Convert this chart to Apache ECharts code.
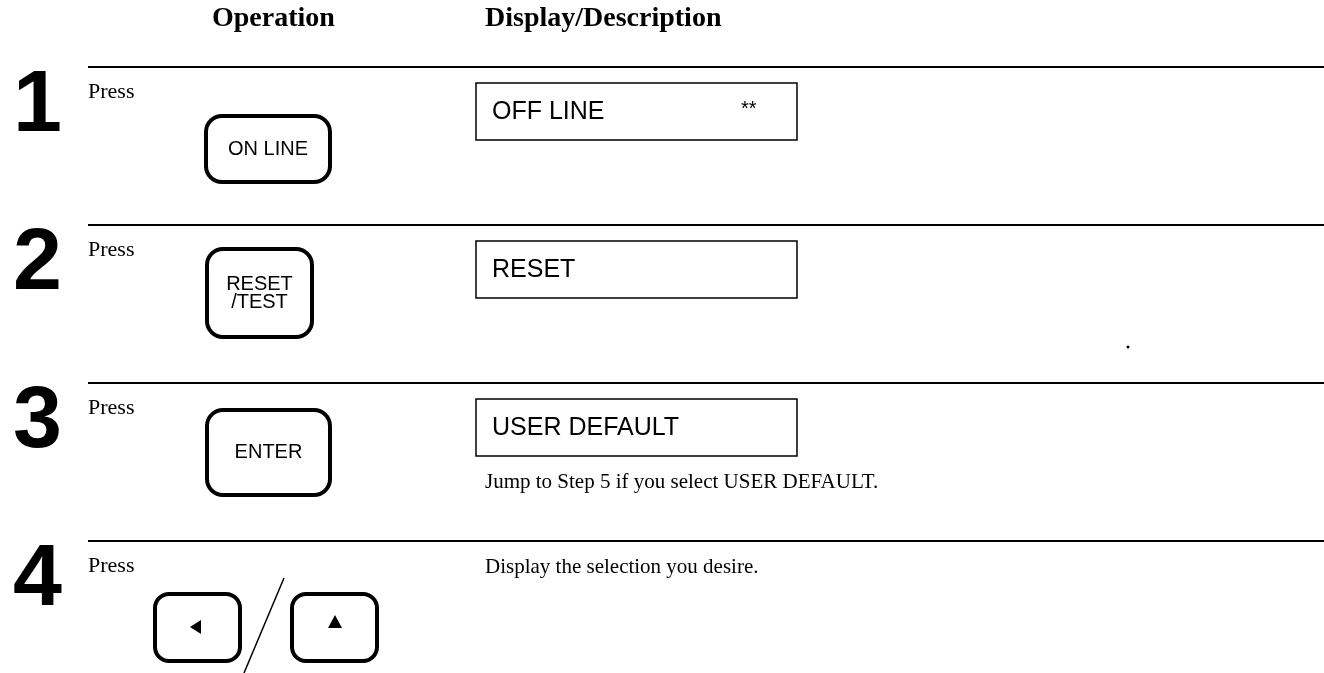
<!DOCTYPE html>
<html>
<head>
<meta charset="utf-8">
<script src="https://cdn.jsdelivr.net/npm/echarts@6/dist/echarts.min.js"></script>
<style>html,body{margin:0;padding:0;background:#fff;}#c{width:1324px;height:673px;}</style>
</head>
<body>
<div id="c"></div>
<script>
// ---- content ----
var headers = ['Operation', 'Display/Description'];
var stepNumbers = ['1', '2', '3', '4'];
var actionWord = ['Press', 'Press', 'Press', 'Press'];
var buttonLabels = [['ON LINE'], ['RESET', '/TEST'], ['ENTER']];
var displayTexts = ['OFF LINE', 'RESET', 'USER DEFAULT'];
var displayMarks = ['**', '', ''];
var descriptions = ['', '', 'Jump to Step 5 if you select USER DEFAULT.', 'Display the selection you desire.'];

var chart = echarts.init(document.getElementById('c'), null, {renderer: 'canvas'});
var W = 1324;
var rowTop = [67, 225, 383, 541];
var serif = '"Liberation Serif", "Times New Roman", serif';
var sans = '"Liberation Sans", Arial, Helvetica, sans-serif';
var g = [];

// headers
g.push({type: 'text', left: 212, top: 5, style: {text: headers[0], font: 'bold 28px ' + serif, fill: '#000'}});
g.push({type: 'text', left: 485, top: 5, style: {text: headers[1], font: 'bold 28px ' + serif, fill: '#000'}});

for (var i = 0; i < 4; i++) {
  var y0 = rowTop[i];
  g.push({type: 'line', shape: {x1: 88, y1: y0, x2: W, y2: y0}, style: {stroke: '#000', lineWidth: 1.8}});
  g.push({type: 'text', x: 13, y: y0 - 4, style: {text: stepNumbers[i], font: 'bold 88px ' + sans, fill: '#000', textVerticalAlign: 'top'}});
  g.push({type: 'text', x: 88, y: y0 + 14, style: {text: actionWord[i], font: '22px ' + serif, fill: '#000'}});
}

// buttons
var btns = [
  {x: 206, y: 116, w: 124, h: 66},
  {x: 207, y: 249, w: 105, h: 88},
  {x: 207, y: 410, w: 123, h: 85}
];
for (var b = 0; b < 3; b++) {
  var B = btns[b];
  g.push({type: 'rect', shape: {x: B.x, y: B.y, width: B.w, height: B.h, r: 16}, style: {fill: '#fff', stroke: '#000', lineWidth: 4}});
  var lbl = buttonLabels[b];
  var lh = 18;
  for (var k = 0; k < lbl.length; k++) {
    g.push({type: 'text', x: B.x + B.w / 2, y: B.y + B.h / 2 + (k - (lbl.length - 1) / 2) * lh,
      style: {text: lbl[k], font: '20px ' + sans, fill: '#000', textAlign: 'center', textVerticalAlign: 'middle'}});
  }
}
// step 4 arrow buttons
var arrowBtns = [{x: 155, y: 594, w: 85, h: 67}, {x: 292, y: 594, w: 85, h: 67}];
arrowBtns.forEach(function (B) {
  g.push({type: 'rect', shape: {x: B.x, y: B.y, width: B.w, height: B.h, r: 14}, style: {fill: '#fff', stroke: '#000', lineWidth: 4}});
});
g.push({type: 'polygon', shape: {points: [[190, 627], [201, 620], [201, 634]]}, style: {fill: '#000'}});
g.push({type: 'polygon', shape: {points: [[335, 615], [328, 628], [342, 628]]}, style: {fill: '#000'}});
g.push({type: 'line', shape: {x1: 284, y1: 578, x2: 244, y2: 673}, style: {stroke: '#000', lineWidth: 1.5}});

// display boxes
var boxes = [{x: 476, y: 83, w: 321, h: 57}, {x: 476, y: 241, w: 321, h: 57}, {x: 476, y: 399, w: 321, h: 57}];
for (var d = 0; d < 3; d++) {
  var X = boxes[d];
  g.push({type: 'rect', shape: {x: X.x, y: X.y, width: X.w, height: X.h}, style: {fill: 'none', stroke: '#000', lineWidth: 1.5}});
  g.push({type: 'text', x: X.x + 16, y: X.y + X.h / 2 + 1, style: {text: displayTexts[d], font: '25px ' + sans, fill: '#000', textVerticalAlign: 'middle'}});
  if (displayMarks[d]) {
    g.push({type: 'text', x: X.x + 265, y: X.y + X.h / 2 - 2, style: {text: displayMarks[d], font: '20px ' + sans, fill: '#000', textVerticalAlign: 'middle'}});
  }
}
// descriptions
g.push({type: 'text', x: 485, y: 472, style: {text: descriptions[2], font: '21px ' + serif, fill: '#000'}});
g.push({type: 'text', x: 485, y: 557, style: {text: descriptions[3], font: '21px ' + serif, fill: '#000'}});
// speck
g.push({type: 'circle', shape: {cx: 1128, cy: 347, r: 1.5}, style: {fill: '#000'}});

chart.setOption({backgroundColor: '#fff', animation: false, graphic: {elements: g}});
</script>
</body>
</html>
